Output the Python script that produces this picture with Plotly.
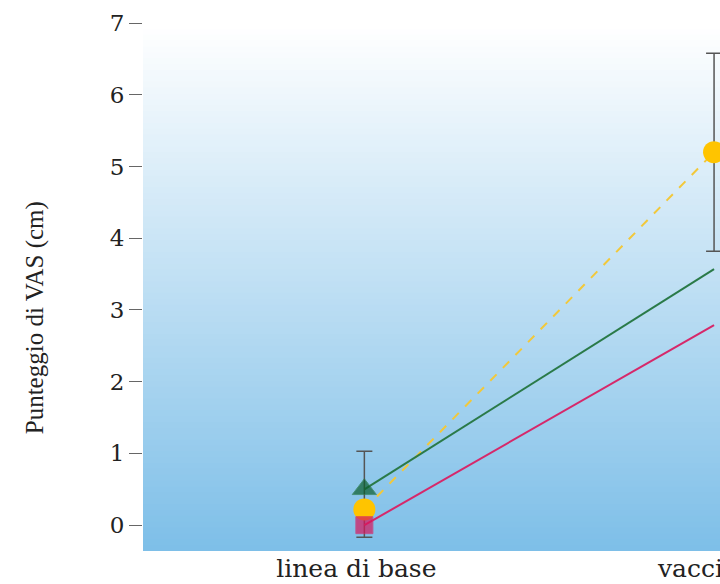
import plotly.graph_objects as go

categories = ["linea di base", "vaccino"]
y_ticks = [0, 1, 2, 3, 4, 5, 6, 7]
y_title = "Punteggio di VAS (cm)"

green_vals = [0.5, 3.57]
pink_vals = [0.0, 2.79]
yellow_vals = [0.22, 5.2]
yellow_err_plus = [0.81, 1.38]
yellow_err_minus = [0.39, 1.38]

fig = go.Figure()

fig.add_trace(go.Scatter(
    x=categories, y=yellow_vals, mode="lines+markers",
    line=dict(color="#f2c83a", width=2, dash="dash"),
    marker=dict(symbol="circle", size=22, color="#ffc400"),
    error_y=dict(type="data", symmetric=False, array=yellow_err_plus,
                 arrayminus=yellow_err_minus, color="#555555", thickness=1.5, width=8),
    showlegend=False,
))
fig.add_trace(go.Scatter(
    x=categories, y=pink_vals, mode="lines+markers",
    line=dict(color="#d6286a", width=2),
    marker=dict(symbol="square", size=[17, 0], color="#d8155c"),
    showlegend=False,
))
fig.add_trace(go.Scatter(
    x=categories, y=green_vals, mode="lines+markers",
    line=dict(color="#2a7a48", width=2),
    marker=dict(symbol="triangle-up", size=[21, 0], color="#0b5e2c"),
    showlegend=False,
))

# gradient background (white at top to light blue at bottom)
N = 90
top = (255, 255, 255)
bot = (126, 191, 232)
shapes = []
for i in range(N):
    f = i / (N - 1)
    c = tuple(round(bot[k] + (top[k] - bot[k]) * f) for k in range(3))
    shapes.append(dict(type="rect", xref="x domain", yref="y domain",
                       x0=0, x1=1, y0=i / N, y1=(i + 1) / N + 0.002,
                       fillcolor="rgb(%d,%d,%d)" % c, line=dict(width=0),
                       layer="below"))

fig.update_layout(
    width=720, height=584, autosize=False,
    margin=dict(l=143, r=0, t=23, b=33, autoexpand=False),
    paper_bgcolor="white", plot_bgcolor="rgba(0,0,0,0)",
    shapes=shapes,
    xaxis=dict(type="category", range=[-0.633, 1.017], showgrid=False,
               zeroline=False, showline=False, ticks="", automargin=False,
               ticklabelshift=-8,
               tickfont=dict(family="DejaVu Serif", size=25, color="#222222")),
    yaxis=dict(range=[-0.36, 7.0], tickvals=y_ticks, showgrid=False,
               zeroline=False, showline=False, ticks="outside", ticklen=13,
               tickcolor="#666666", tickwidth=1, automargin=False,
               tickfont=dict(family="DejaVu Serif", size=23, color="#222222")),
    annotations=[dict(text=y_title, xref="paper", yref="paper",
                      x=-0.187, y=0.441, textangle=-90, showarrow=False,
                      xanchor="center", yanchor="middle",
                      font=dict(family="Liberation Serif", size=25, color="#222222"))],
)

fig.write_html(
    "out.html",
    config={"responsive": False, "displayModeBar": False},
    post_script="document.body.style.margin='0';document.body.style.overflow='hidden';",
)
